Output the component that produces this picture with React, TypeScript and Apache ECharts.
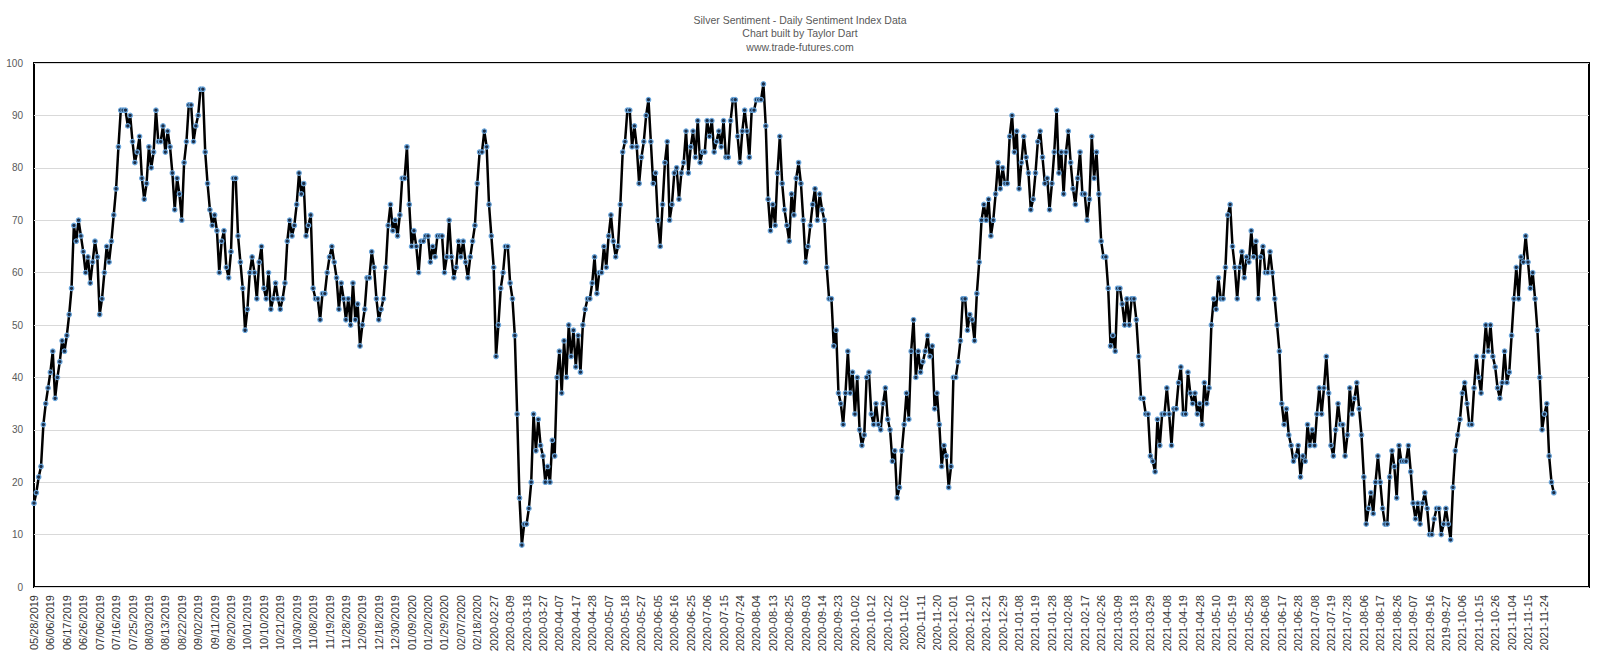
import React, { useEffect, useRef } from 'react';
import * as echarts from 'echarts';

const FONT = '"Liberation Sans", Arial, sans-serif';

const titleLines = [
  'Silver Sentiment - Daily Sentiment Index Data',
  'Chart built by Taylor Dart',
  'www.trade-futures.com',
];

// one tick label every 7 trading days
const tickLabels = [
  '05/28/2019', '06/06/2019', '06/17/2019', '06/26/2019', '07/06/2019', '07/16/2019', '07/25/2019',
  '08/03/2019', '08/13/2019', '08/22/2019', '09/02/2019', '09/11/2019', '09/20/2019', '10/01/2019',
  '10/10/2019', '10/21/2019', '10/30/2019', '11/08/2019', '11/19/2019', '11/28/2019', '12/09/2019',
  '12/18/2019', '12/30/2019', '01/09/2020', '01/20/2020', '01/29/2020', '02/07/2020', '02/18/2020',
  '2020-02-27', '2020-03-09', '2020-03-18', '2020-03-27', '2020-04-07', '2020-04-17', '2020-04-28',
  '2020-05-07', '2020-05-18', '2020-05-27', '2020-06-05', '2020-06-16', '2020-06-25', '2020-07-06',
  '2020-07-15', '2020-07-24', '2020-08-04', '2020-08-13', '2020-08-25', '2020-09-03', '2020-09-14',
  '2020-09-23', '2020-10-02', '2020-10-12', '2020-10-22', '2020-11-02', '2020-11-11', '2020-11-20',
  '2020-12-01', '2020-12-10', '2020-12-21', '2020-12-29', '2021-01-08', '2021-01-19', '2021-01-28',
  '2021-02-08', '2021-02-17', '2021-02-26', '2021-03-09', '2021-03-18', '2021-03-29', '2021-04-08',
  '2021-04-19', '2021-04-28', '2021-05-10', '2021-05-19', '2021-05-28', '2021-06-08', '2021-06-17',
  '2021-06-28', '2021-07-08', '2021-07-19', '2021-07-28', '2021-08-06', '2021-08-17', '2021-08-26',
  '2021-09-07', '2021-09-16', '2019-09-27', '2021-10-06', '2021-10-15', '2021-10-26', '2021-11-04',
  '2021-11-15', '2021-11-24',
];

const LABEL_STEP = 7;
const CATEGORY_COUNT = 664;

// Daily Sentiment Index values, in date order
const part1 = [16,18,21,23,31,35,38,41,45,36,40,43,47,45,48,52,57,69,66,70,67,64,60,63,58,62,66,63,52,55,60,65,62,66,71,76,84,91,91,91,88,90,85,81,83,86,78,74,77,84,80,83,91,85,85,88,83,87,84,79,72,78,75,70,81,85,92,92,85,88,90,95,95,83,77,72];
const part2 = [69,71,68,60,66,68,61,59,64,78,78,67,62,57,49,53,60,63,60,55,62,65,57,55,60,53,55,58,55,53,55,58,66,70,67,69,73,79,75,77,67,69,71,57,55,55,51,56,56,60,63,65,62,59,53,58,55,51,55,50,58,51,54,46,50,53,59,59,64,61,55,51];
const part3 = [53,55,61,69,73,68,70,67,71,78,78,84,73,65,68,65,60,66,66,67,67,62,65,63,67,67,67,60,63,70,63,59,61,66,63,66,62,59,63,66,69,77,83,83,87,84,73,67,61,44,50,57,60,65,65,58,55,48,33,17,8,12,12,15,20,33,26,32,27,25,20,23];
const part4 = [20,28,25,40,45,37,47,40,50,44,49,42,48,41,50,53,55,55,58,63,56,60,60,65,61,67,71,66,63,65,73,83,85,91,91,84,88,84,77,82,85,90,93,85,77,79,70,65,73,81,85,70,73,79,80,74,79,81,87,79,84,87,82,89,81,83,83,89,86,89,83,85,87];
const part5 = [84,89,82,82,89,93,93,86,81,87,91,87,82,91,91,93,93,93,96,88,74,68,73,69,79,86,77,72,69,66,75,71,78,81,77,70,62,65,69,73,76,70,75,72,70,61,55,55,46,49,37,35,31,37,45,37,41,33,40,30,27,29,40,41,33,31,35,31,30,35,38,32,30];
const part6 = [24,26,17,19,26,31,37,32,45,51,40,45,41,43,45,48,44,46,34,37,31,23,27,25,19,23,40,40,43,47,55,55,49,52,51,47,56,62,70,73,70,74,67,70,75,81,76,80,77,77,86,90,83,87,76,81,86,82,79,72,74,79,85,87,82,77,78,72,77,83,91,79];
const part7 = [83,75,83,87,81,76,73,78,83,75,75,70,74,86,78,83,75,66,63,63,57,46,48,45,57,57,54,50,55,50,55,55,51,44,36,36,33,33,25,24,22,32,27,33,33,38,33,27,34,34,39,42,33,33,41,37,35,37,33,35,31,39,35,38,50,55,53,59,55,55,61,71,73];
const part8 = [65,61,55,61,64,59,63,62,68,63,66,55,63,65,60,60,64,60,55,50,45,35,31,34,29,27,24,25,27,21,25,24,31,27,30,27,33,38,33,38,44,37,27,25,30,35,31,31,25,29,38,33,36,39,34,29,21,12,15,18,14,20,25,20,15,12,12,21,26,23,17,27,24,24,24,27,22,16,13,16,12,16,18,15,10,10,13,15,15,10,12,15,12,9,19,26,29,32,37,39,35,31,31,38,44,40,37,44,50,45,50,44,42,38,36,39,45,39,41,48,55,61,55,63,62,67,62,57,60,55,49,40,30,33,35,25,20,18];

export default function App() {
  const ref = useRef<HTMLDivElement>(null);

  useEffect(() => {
    if (!ref.current) return;
    const chart = echarts.init(ref.current, null, { renderer: 'svg' });
    const values = [...part1, ...part2, ...part3, ...part4, ...part5, ...part6, ...part7, ...part8];
    const categories = Array.from({ length: CATEGORY_COUNT }, (_, i) =>
      i % LABEL_STEP === 0 && tickLabels[i / LABEL_STEP] ? tickLabels[i / LABEL_STEP] : `c${i}`
    );

    chart.setOption({
      animation: false,
      backgroundColor: '#ffffff',
      title: {
        text: titleLines.join('\n'),
        left: 'center',
        top: 8,
        textStyle: {
          fontSize: 10.5,
          fontWeight: 'normal',
          color: '#595959',
          lineHeight: 13.5,
          fontFamily: FONT,
        },
      },
      grid: {
        left: 34,
        right: 11,
        top: 63,
        bottom: 76,
        show: true,
        borderColor: '#000000',
        borderWidth: 2,
        backgroundColor: 'transparent',
      },
      xAxis: {
        type: 'category',
        data: categories,
        boundaryGap: false,
        axisLine: { show: false },
        axisTick: { show: false },
        splitLine: { show: false },
        axisLabel: {
          interval: LABEL_STEP - 1,
          rotate: 90,
          fontSize: 11,
          color: '#333333',
          margin: 8,
          fontFamily: FONT,
          formatter: (v: string) => (v.startsWith('c') ? '' : v),
        },
      },
      yAxis: {
        type: 'value',
        min: 0,
        max: 100,
        interval: 10,
        axisLine: { show: false },
        axisTick: { show: false },
        splitLine: { lineStyle: { color: '#d9d9d9', width: 1 } },
        axisLabel: { fontSize: 10, color: '#595959', margin: 11, fontFamily: FONT },
      },
      series: [
        {
          type: 'line',
          data: values,
          showSymbol: true,
          showAllSymbol: true,
          symbol: 'circle',
          symbolSize: 4.5,
          lineStyle: { color: '#000000', width: 2.5 },
          itemStyle: { color: '#1c2c44', borderColor: '#6aa6dc', borderWidth: 1.2 },
          emphasis: { disabled: true },
        },
      ],
    });

    return () => chart.dispose();
  }, []);

  return (
    <div
      ref={ref}
      style={{ position: 'absolute', left: 0, top: 0, width: 1600, height: 663, background: '#fff' }}
    />
  );
}
